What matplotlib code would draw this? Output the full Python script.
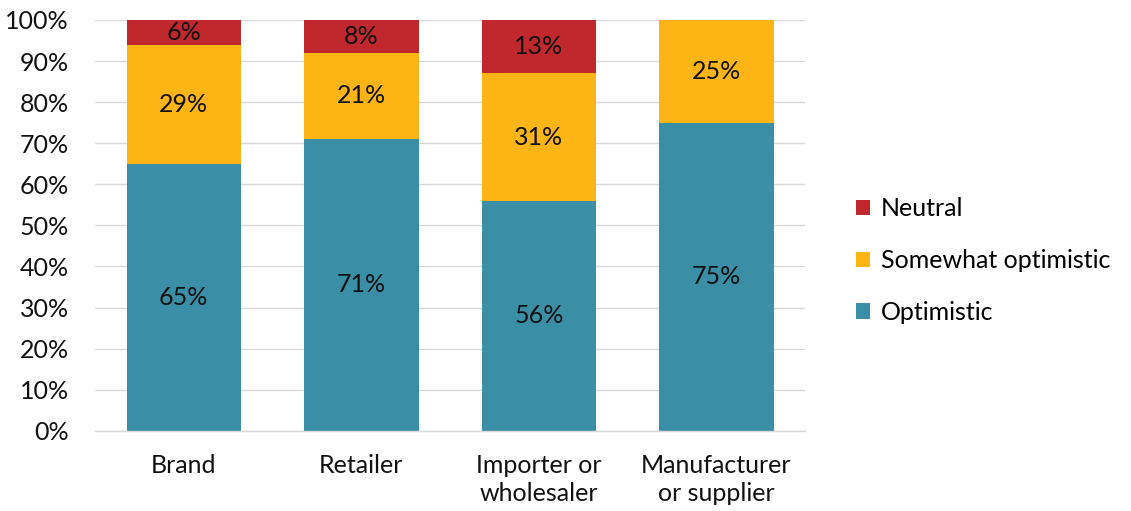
import matplotlib.pyplot as plt
import numpy as np

# Survey outlook by company type (percent of respondents)
categories = ["Brand", "Retailer", "Importer or\nwholesaler", "Manufacturer\nor supplier"]
optimistic = [65, 71, 56, 75]
somewhat_optimistic = [29, 21, 31, 25]
neutral = [6, 8, 13, 0]

colors = {"Optimistic": "#3A8FA6", "Somewhat optimistic": "#FDB515", "Neutral": "#C0282D"}

plt.rcParams["font.family"] = ["Lato", "DejaVu Sans"]
FS = 18

fig = plt.figure(figsize=(11.31, 5.11), dpi=100)
ax = fig.add_axes([0.084, 0.157, 0.628, 0.804])

x = np.arange(len(categories))
width = 0.645

series = [
    ("Optimistic", optimistic),
    ("Somewhat optimistic", somewhat_optimistic),
    ("Neutral", neutral),
]

bottom = np.zeros(len(categories))
handles = {}
for name, vals in series:
    vals = np.array(vals, dtype=float)
    bars = ax.bar(x, vals, width, bottom=bottom, color=colors[name], label=name, zorder=2)
    handles[name] = bars
    for xi, b, v in zip(x, bottom, vals):
        if v > 0:
            ax.text(xi, b + v / 2, f"{int(v)}%", ha="center", va="center",
                    fontsize=FS, color="#111111", zorder=3)
    bottom += vals

ax.set_xlim(-0.5, 3.5)
ax.set_ylim(0, 100)
ax.set_yticks(range(0, 101, 10))
ax.set_yticklabels([f"{v}%" for v in range(0, 101, 10)], fontsize=FS, color="#111111")
ax.set_xticks(x)
ax.set_xticklabels(categories, fontsize=FS, color="#111111", linespacing=1.25)
ax.tick_params(axis="both", length=0)
ax.tick_params(axis="x", pad=17)
ax.tick_params(axis="y", pad=19)

ax.grid(axis="y", color="#D9D9D9", linewidth=1, zorder=0)
for side in ["top", "right", "left"]:
    ax.spines[side].set_visible(False)
ax.spines["bottom"].set_color("#D9D9D9")
ax.spines["bottom"].set_linewidth(1)

order = ["Neutral", "Somewhat optimistic", "Optimistic"]
fig.legend([handles[n] for n in order], order, loc="center left",
           bbox_to_anchor=(0.737, 0.49), frameon=False, fontsize=FS,
           handlelength=0.55, handleheight=0.55, handletextpad=0.45,
           labelspacing=1.15)

fig.savefig("out.png", dpi=100)
